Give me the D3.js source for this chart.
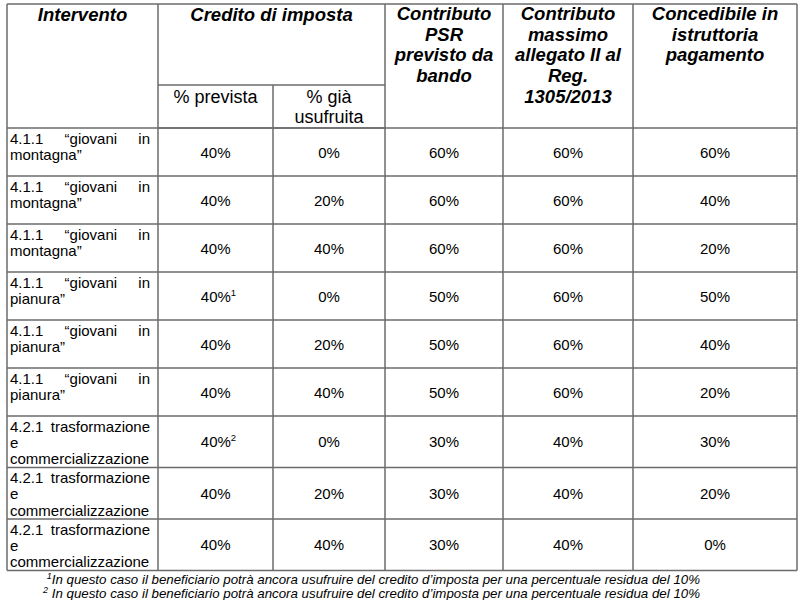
<!DOCTYPE html>
<html>
<head>
<meta charset="utf-8">
<script src="https://cdn.jsdelivr.net/npm/d3@7/dist/d3.min.js"></script>
<style>
  body { margin: 0; background: #fff; }
  svg { font-family: "Liberation Sans", Arial, sans-serif; }
</style>
</head>
<body>
<div id="chart"></div>
<script>
// table data
const interventi = [
  ['4.1.1 “giovani in', 'montagna”'],
  ['4.1.1 “giovani in', 'montagna”'],
  ['4.1.1 “giovani in', 'montagna”'],
  ['4.1.1 “giovani in', 'pianura”'],
  ['4.1.1 “giovani in', 'pianura”'],
  ['4.1.1 “giovani in', 'pianura”'],
  ['4.2.1 trasformazione', 'e', 'commercializzazione'],
  ['4.2.1 trasformazione', 'e', 'commercializzazione'],
  ['4.2.1 trasformazione', 'e', 'commercializzazione']
];
const prevista = ['40%', '40%', '40%', '40%', '40%', '40%', '40%', '40%', '40%'];
const notePrevista = ['', '', '', '1', '', '', '2', '', ''];
const usufruita = ['0%', '20%', '40%', '0%', '20%', '40%', '0%', '20%', '40%'];
const contributoPSR = ['60%', '60%', '60%', '50%', '50%', '50%', '30%', '30%', '30%'];
const contributoMax = ['60%', '60%', '60%', '60%', '60%', '60%', '40%', '40%', '40%'];
const concedibile = ['60%', '40%', '20%', '50%', '40%', '20%', '30%', '20%', '0%'];

const headTop = ['Intervento', 'Credito di imposta'];
const headSub = [['% prevista'], ['% già', 'usufruita']];
const headRight = [
  ['Contributo', 'PSR', 'previsto da', 'bando'],
  ['Contributo', 'massimo', 'allegato II al', 'Reg.', '1305/2013'],
  ['Concedibile in', 'istruttoria', 'pagamento']
];
const footnotes = [
  ['1', 'In questo caso il beneficiario potrà ancora usufruire del credito d’imposta per una percentuale residua del 10%'],
  ['2', ' In questo caso il beneficiario potrà ancora usufruire del credito d’imposta per una percentuale residua del 10%']
];

const width = 804, height = 600;
const colEdges = [7, 158, 273, 385, 503, 633, 797];
const tableTop = 4, subLine = 85, headBottom = 128;
const lineColor = '#6b6b6b';

const svg = d3.select('#chart').append('svg')
  .attr('width', width)
  .attr('height', height);

// row heights from number of text lines
const rowH = interventi.map(d => d.length > 2 ? 51.5 : 48);
const rowEdges = [headBottom];
rowH.forEach(h => rowEdges.push(rowEdges[rowEdges.length - 1] + h));
const tableBottom = rowEdges[rowEdges.length - 1];

const cx = i => (colEdges[i] + colEdges[i + 1]) / 2;

// header text
const hb = svg.append('g').attr('font-weight', 'bold').attr('font-style', 'italic')
  .attr('font-size', 18.5).attr('fill', '#000').attr('text-anchor', 'middle');
hb.append('text').attr('x', cx(0)).attr('y', 21).text(headTop[0]);
hb.append('text').attr('x', colEdges[3] / 2 + colEdges[1] / 2).attr('y', 21).text(headTop[1]);
headRight.forEach((lines, k) => {
  lines.forEach((t, j) => {
    hb.append('text').attr('x', cx(3 + k)).attr('y', 20 + j * 20.7).text(t);
  });
});

const hs = svg.append('g').attr('font-size', 18).attr('fill', '#000').attr('text-anchor', 'middle');
headSub.forEach((lines, k) => {
  lines.forEach((t, j) => {
    hs.append('text').attr('x', cx(1 + k)).attr('y', 103 + j * 19.5).text(t);
  });
});

// body
const body = svg.append('g').attr('font-size', 15).attr('fill', '#000');

// justified text in first column
const padL = 10, padR = 150;
interventi.forEach((lines, r) => {
  const top = rowEdges[r];
  lines.forEach((line, j) => {
    const y = top + 15.5 + j * 16.3;
    const words = line.split(' ');
    const last = j === lines.length - 1;
    if (last || words.length < 2) {
      body.append('text').attr('x', padL).attr('y', y).text(line);
      return;
    }
    const nodes = words.map(w => body.append('text').attr('y', y).text(w));
    const widths = nodes.map(n => n.node().getComputedTextLength());
    const gap = (padR - padL - d3.sum(widths)) / (words.length - 1);
    let x = padL;
    nodes.forEach((n, i) => { n.attr('x', x); x += widths[i] + gap; });
  });
});

// value columns
const valueCols = [prevista, usufruita, contributoPSR, contributoMax, concedibile];
valueCols.forEach((vals, c) => {
  vals.forEach((v, r) => {
    const y = (rowEdges[r] + rowEdges[r + 1]) / 2 + 5.5;
    const note = c === 0 ? notePrevista[r] : '';
    const t = body.append('text').attr('x', cx(c + 1)).attr('y', y).attr('text-anchor', 'middle');
    t.append('tspan').text(v);
    if (note) {
      t.attr('x', cx(c + 1) + 3);
      t.append('tspan').attr('font-size', 9.5).attr('dy', -6).text(note);
    }
  });
});

// grid lines
const grid = svg.append('g').attr('stroke', lineColor).attr('stroke-width', 1.5).attr('fill', 'none');
const hLines = [[tableTop, 0, 6], [subLine, 1, 3], [headBottom, 1, 3]];
rowEdges.forEach(y => hLines.push([y, 0, 6]));
hLines.forEach(([y, a, b]) => {
  grid.append('line').attr('x1', colEdges[a]).attr('x2', colEdges[b]).attr('y1', y).attr('y2', y);
});
colEdges.forEach((x, i) => {
  const y1 = i === 2 ? subLine : tableTop;
  grid.append('line').attr('x1', x).attr('x2', x).attr('y1', y1).attr('y2', tableBottom);
});

// footnotes
const fn = svg.append('g').attr('font-size', 13.3).attr('font-style', 'italic')
  .attr('fill', '#000').attr('text-anchor', 'end');
footnotes.forEach(([n, t], i) => {
  const txt = fn.append('text').attr('x', 700).attr('y', 584 + i * 13.5);
  txt.append('tspan').attr('font-size', 9).attr('dy', -5).text(n);
  txt.append('tspan').attr('dy', 5).text(t);
});
</script>
</body>
</html>
